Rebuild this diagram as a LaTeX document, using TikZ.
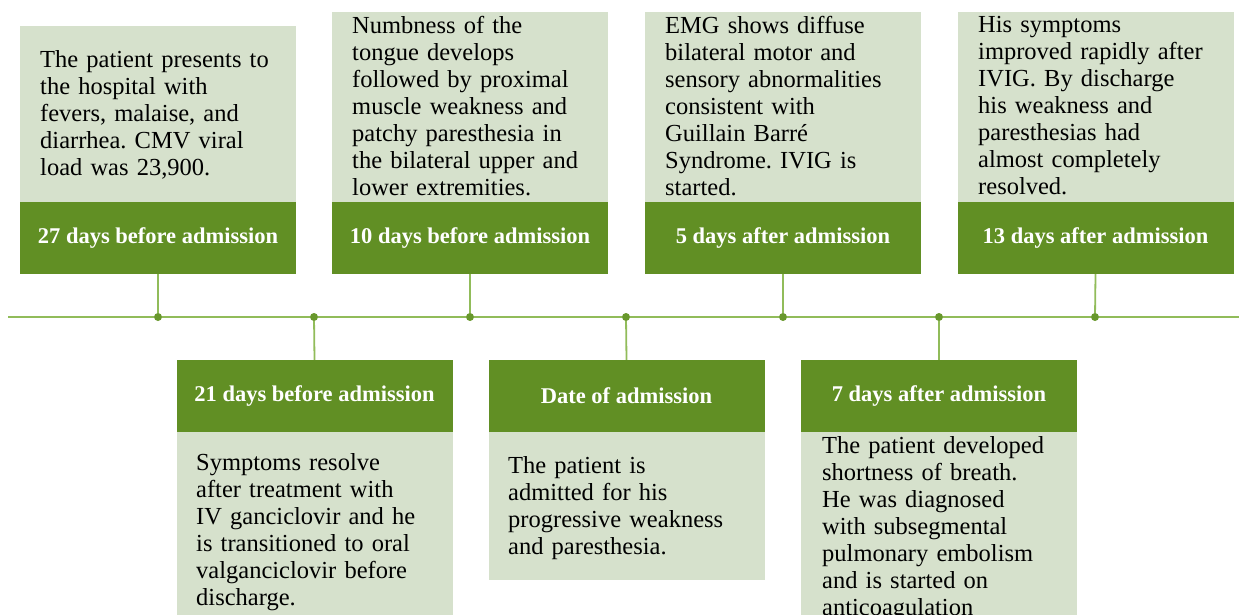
\documentclass[tikz,border=0pt]{standalone}
\usepackage{fontspec}
\setmainfont{Liberation Serif}
\frenchspacing
\definecolor{dkgreen}{RGB}{97,143,36}
\definecolor{ltgreen}{RGB}{214,225,204}
\definecolor{lngreen}{RGB}{145,188,90}
\definecolor{dotgreen}{RGB}{104,152,44}
\tikzset{
  head/.style={fill=dkgreen, minimum width=276pt, minimum height=72pt, inner sep=0pt, text=white, font=\fontsize{22.5}{25}\selectfont\bfseries},
  bodybox/.style={fill=ltgreen, minimum width=276pt, inner sep=0pt},
  bodytext/.style={anchor=north west, align=left, inner sep=0pt, text width=270pt, font=\fontsize{24.5}{27}\selectfont},
  tdot/.style={circle, fill=dotgreen, inner sep=0pt, minimum size=8pt},
  conn/.style={draw=lngreen, line width=1.8pt},
}
\begin{document}
\begin{tikzpicture}[x=1pt,y=-1pt]
\useasboundingbox (0,0) rectangle (1239,615);
\clip (0,0) rectangle (1239,615);
\fill[white] (0,0) rectangle (1239,615);

% timeline dots
\coordinate (lstart) at (8,317);
\coordinate (lend) at (1239,317);
\node[tdot] (d1) at (158,317) {};
\node[tdot] (d2) at (314,317) {};
\node[tdot] (d3) at (470,317) {};
\node[tdot] (d4) at (626,317) {};
\node[tdot] (d5) at (783,317) {};
\node[tdot] (d6) at (939,317) {};
\node[tdot] (d7) at (1095,317) {};
\draw[conn] (lstart) -- (d1) -- (d2) -- (d3) -- (d4) -- (d5) -- (d6) -- (d7) -- (lend);

% top boxes
\node[bodybox, minimum height=176pt] (b1) at (158,114) {};
\node[head] (h1) at (158,238) {27 days before admission};
\node[bodytext] (t1) at (40,50) {The patient presents to\\the hospital with\\fevers, malaise, and\\diarrhea. CMV viral\\load was 23,900.};

\node[bodybox, minimum height=190pt] (b2) at (470,107) {};
\node[head] (h2) at (470,238) {10 days before admission};
\node[bodytext] (t2) at (352,16) {Numbness of the\\tongue develops\\followed by proximal\\muscle weakness and\\patchy paresthesia in\\the bilateral upper and\\lower extremities.};

\node[bodybox, minimum height=190pt] (b3) at (783,107) {};
\node[head] (h3) at (783,238) {5 days after admission};
\node[bodytext] (t3) at (665,16) {EMG shows diffuse\\bilateral motor and\\sensory abnormalities\\consistent with\\Guillain Barré\\Syndrome. IVIG is\\started.};

\node[bodybox, minimum height=190pt] (b4) at (1095.5,107) {};
\node[head] (h4) at (1095.5,238) {13 days after admission};
\node[bodytext] (t4) at (978,16) {His symptoms\\improved rapidly after\\IVIG. By discharge\\his weakness and\\paresthesias had\\almost completely\\resolved.};

% bottom boxes
\node[bodybox, minimum height=200pt] (b5) at (314.5,532) {};
\node[head] (h5) at (314.5,396) {21 days before admission};
\node[bodytext] (t5) at (196,453) {Symptoms resolve\\after treatment with\\IV ganciclovir and he\\is transitioned to oral\\valganciclovir before\\discharge.};

\node[bodybox, minimum height=148pt] (b6) at (626.5,506) {};
\node[head] (h6) at (626.5,396) {Date of admission};
\node[bodytext] (t6) at (508,456) {The patient is\\admitted for his\\progressive weakness\\and paresthesia.};

\node[bodybox, minimum height=200pt] (b7) at (939,532) {};
\node[head] (h7) at (939,396) {7 days after admission};
\node[bodytext] (t7) at (822,436) {The patient developed\\shortness of breath.\\He was diagnosed\\with subsegmental\\pulmonary embolism\\and is started on\\anticoagulation};

% connectors
\draw[conn] (h1.south) -- (d1);
\draw[conn] (h2.south) -- (d3);
\draw[conn] (h3.south) -- (d5);
\draw[conn] (h4.south) -- (d7);
\draw[conn] (d2) -- (h5.north);
\draw[conn] (d4) -- (h6.north);
\draw[conn] (d6) -- (h7.north);
\end{tikzpicture}
\end{document}
